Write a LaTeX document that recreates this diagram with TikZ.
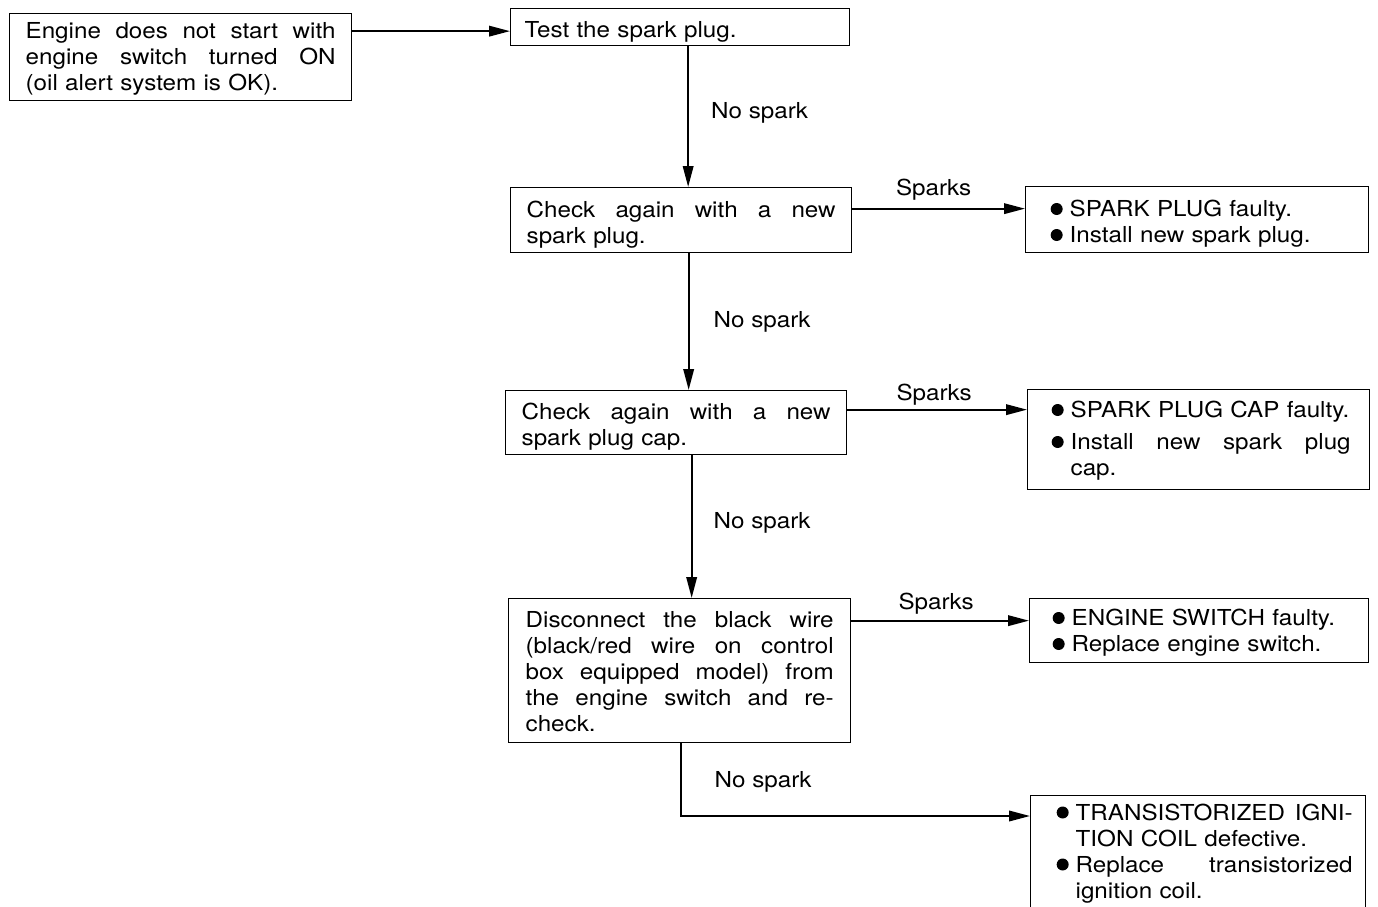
\documentclass[tikz,border=0pt]{standalone}
\usepackage{fontspec}
\setmainfont{TeX Gyre Heros}[FakeStretch=1.1]
\usetikzlibrary{arrows.meta}

% text width of the current box and width reserved for a bullet
\newlength\lw
\newlength\hangw
% a line spread to the full text width
\newcommand\jline[1]{\makebox[\lw][s]{\spaceskip=0.3em plus 1fil\relax #1}}
% round bullet
\newcommand\blt{\raisebox{1.5pt}{\tikz\fill (0,0) circle (6pt);}}
% bullet item: justified first line / ragged first line
\newcommand\bfirst[1]{\makebox[\hangw][r]{\blt\hspace{7pt}}\makebox[\dimexpr\lw-\hangw\relax][s]{\spaceskip=0.3em plus 1fil\relax #1}}
\newcommand\bfirstr[1]{\makebox[\hangw][r]{\blt\hspace{7pt}}#1}
% continuation line of a bullet item
\newcommand\bcontr[1]{\hspace*{\hangw}#1}

\begin{document}
\begin{tikzpicture}[x=1pt,y=-1pt,
  font=\fontsize{22}{26}\selectfont,
  topstrut/.initial=24.5pt,
  box/.style={draw, line width=1.3pt, anchor=north west, align=left, inner ysep=3pt,
    execute at begin node={\rule{0pt}{\pgfkeysvalueof{/tikz/topstrut}}}},
  arr/.style={line width=2pt, -{Triangle[length=21pt,width=10.5pt]}},
  lbl/.style={inner sep=0pt}]
\fill[white] (0,0) rectangle (1378,907);
\clip (0,0) rectangle (1378,907);

% main column
\node[box, topstrut=18.5pt, text width=310pt, inner xsep=16pt, minimum width=342pt, minimum height=87pt] (start) at (9,13)
  {\setlength\lw{310pt}\jline{Engine does not start with}\\ \jline{engine switch turned ON}\\ (oil alert system is OK).};
\node[box, text width=311pt, inner xsep=14pt, minimum width=339pt, minimum height=37pt] (test) at (510,8)
  {Test the spark plug.};
\node[box, text width=309pt, inner xsep=16pt, minimum width=341pt, minimum height=65pt] (check1) at (510,187)
  {\setlength\lw{309pt}\jline{Check again with a new}\\ spark plug.};
\node[box, text width=309pt, inner xsep=16pt, minimum width=341pt, minimum height=64pt] (check2) at (505,390)
  {\setlength\lw{309pt}\jline{Check again with a new}\\ spark plug cap.};
\node[box, topstrut=18.5pt, text width=308pt, inner xsep=17pt, minimum width=342pt, minimum height=144pt] (disc) at (508,598)
  {\setlength\lw{308pt}\jline{Disconnect the black wire}\\ \jline{(black/red wire on control}\\ \jline{box equipped model) from}\\ \jline{the engine switch and re-}\\ check.};

% results
\node[box, text width=303pt, inner xsep=20pt, minimum width=343pt, minimum height=66pt] (r1) at (1025,186)
  {\setlength\hangw{24pt}\bfirstr{SPARK PLUG faulty.}\\ \bfirstr{Install new spark plug.}};
\node[box, topstrut=18.5pt, text width=304pt, inner xsep=19pt, minimum width=342pt, minimum height=100pt] (r2) at (1027,389)
  {\setlength\lw{304pt}\setlength\hangw{24pt}\bfirstr{SPARK PLUG CAP faulty.}\\[6pt] \bfirst{Install new spark plug}\\ \bcontr{cap.}};
\node[box, topstrut=20.5pt, text width=303pt, inner xsep=18pt, minimum width=339pt, minimum height=64pt] (r3) at (1029,598)
  {\setlength\hangw{24pt}\bfirstr{ENGINE SWITCH faulty.}\\ \bfirstr{Replace engine switch.}};
\node[box, topstrut=16.5pt, text width=309pt, inner xsep=13pt, minimum width=335pt, minimum height=115pt] (r4) at (1030,795)
  {\setlength\lw{309pt}\setlength\hangw{32pt}\bfirst{TRANSISTORIZED IGNI-}\\ \bcontr{TION COIL defective.}\\ \bfirst{Replace transistorized}\\ \bcontr{ignition coil.}};

% connectors
\coordinate (s1) at ([yshift=-4pt]test.west);
\draw[arr] (s1 -| start.east) -- (s1);

\coordinate (a1) at ([xshift=8pt]test.south);
\draw[arr] (a1) -- node[lbl, anchor=west, xshift=22pt, yshift=4pt] {No spark} (a1 |- check1.north);
\coordinate (a2) at ([xshift=7.5pt]check1.south);
\draw[arr] (a2) -- node[lbl, anchor=west, xshift=24pt] {No spark} (a2 |- check2.north);
\coordinate (a3) at ([xshift=15.5pt]check2.south);
\draw[arr] (a3) -- node[lbl, anchor=west, xshift=21pt, yshift=4pt] {No spark} (a3 |- disc.north);

\coordinate (b1) at ([yshift=11.5pt]check1.east);
\draw[arr] (b1) -- node[lbl, anchor=base, xshift=-5pt, yshift=13pt] {Sparks} (b1 -| r1.west);
\coordinate (b2) at ([yshift=13pt]check2.east);
\draw[arr] (b2) -- node[lbl, anchor=base, xshift=-3pt, yshift=9pt] {Sparks} (b2 -| r2.west);
\coordinate (b3) at ([yshift=50pt]disc.east);
\draw[arr] (b3) -- node[lbl, anchor=base, xshift=-4pt, yshift=11pt] {Sparks} (b3 -| r3.west);

\coordinate (d1) at ([xshift=1pt]disc.south);
\coordinate (d2) at ([yshift=-21pt]r4.north west);
\draw[arr] (d1) |- node[lbl, pos=0.25, anchor=west, xshift=33pt, yshift=-2pt] {No spark} (d2);
\end{tikzpicture}
\end{document}
